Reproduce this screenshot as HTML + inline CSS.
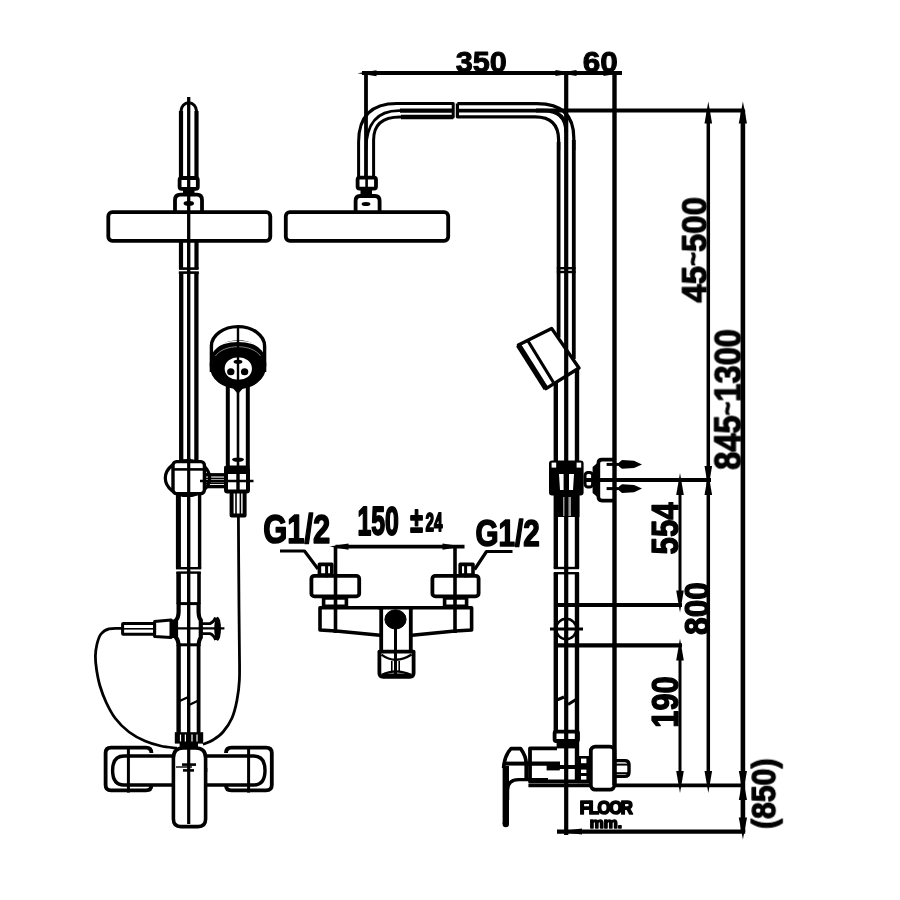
<!DOCTYPE html>
<html lang="en"><head><meta charset="utf-8"><title>Shower column dimensions</title>
<style>
html,body{margin:0;padding:0;background:#fff;}
body{width:900px;height:900px;overflow:hidden;}
svg{display:block;filter:blur(0.55px);}
svg text{font-family:"Liberation Sans",sans-serif;font-weight:bold;fill:#000;stroke:#000;stroke-linejoin:round;}
</style></head><body>
<svg width="900" height="900" viewBox="0 0 900 900" stroke="#000" fill="none" stroke-linejoin="round">
<rect x="0" y="0" width="900" height="900" fill="#fff" stroke="none"/>
<g id="front-view">
<line x1="181" y1="111" x2="181" y2="177" stroke-width="4.2" stroke-linecap="butt"/>
<line x1="196.5" y1="111" x2="196.5" y2="177" stroke-width="4.2" stroke-linecap="butt"/>
<path d="M181,112 V111 A7.75,8.2 0 0 1 196.5,111 V112" stroke-width="3" fill="none" />
<rect x="179.6" y="178" width="18.2" height="10.8" rx="2" stroke-width="3.8" fill="none"/>
<rect x="183" y="190" width="11.5" height="4" rx="0" stroke-width="0" fill="#000"/>
<path d="M175,212 V200 Q175,194.6 180.5,194.6 H197 Q202,194.6 202,200 V212" stroke-width="3.8" fill="none" />
<ellipse cx="188.8" cy="203.4" rx="5.2" ry="2.4" stroke-width="0" fill="#000"/>
<rect x="108.3" y="212.2" width="162" height="28.6" rx="4" stroke-width="3.8" fill="none"/>
<line x1="188.7" y1="97" x2="188.7" y2="243" stroke-width="3.3" stroke-linecap="butt"/>
<line x1="181" y1="242" x2="181" y2="269" stroke-width="4.2" stroke-linecap="butt"/>
<line x1="196.5" y1="242" x2="196.5" y2="269" stroke-width="4.2" stroke-linecap="butt"/>
<line x1="179" y1="268.6" x2="198.6" y2="268.6" stroke-width="2.6" stroke-linecap="butt"/>
<line x1="181.2" y1="272" x2="181.2" y2="460" stroke-width="4.3" stroke-linecap="butt"/>
<line x1="196.4" y1="272" x2="196.4" y2="460" stroke-width="4.3" stroke-linecap="butt"/>
<line x1="178.8" y1="272.6" x2="198.8" y2="272.6" stroke-width="2.6" stroke-linecap="butt"/>
<line x1="188.7" y1="243" x2="188.7" y2="460" stroke-width="3.4" stroke-linecap="butt"/>
<ellipse cx="187.5" cy="478" rx="22.2" ry="17.5" stroke-width="3.2" fill="#fff"/>
<rect x="173" y="461.6" width="31.4" height="32" rx="3.5" stroke-width="3.4" fill="#fff"/>
<line x1="173" y1="469.4" x2="204.4" y2="469.4" stroke-width="2.6" stroke-linecap="butt"/>
<line x1="188.7" y1="458" x2="188.7" y2="497" stroke-width="3.2" stroke-linecap="butt"/>
<line x1="206" y1="474.8" x2="225" y2="474.8" stroke-width="3.4" stroke-linecap="butt"/>
<line x1="206" y1="486.6" x2="225" y2="486.6" stroke-width="3.4" stroke-linecap="butt"/>
<line x1="206" y1="478.4" x2="225" y2="478.4" stroke-width="1.6" stroke-linecap="butt"/>
<line x1="206" y1="483.2" x2="225" y2="483.2" stroke-width="1.6" stroke-linecap="butt"/>
<line x1="200" y1="481" x2="253.5" y2="481" stroke-width="2.4" stroke-linecap="butt"/>
<line x1="227.8" y1="385" x2="227.8" y2="467" stroke-width="4" stroke-linecap="butt"/>
<line x1="247.8" y1="385" x2="247.8" y2="467" stroke-width="4" stroke-linecap="butt"/>
<line x1="238" y1="388" x2="238" y2="466" stroke-width="2.6" stroke-linecap="butt"/>
<rect x="226" y="467.6" width="22" height="23.8" rx="1.5" stroke-width="4" fill="none"/>
<rect x="224.4" y="466" width="25" height="8" rx="0" stroke-width="0" fill="#000"/>
<line x1="238" y1="472" x2="238" y2="491" stroke-width="3.4" stroke-linecap="butt"/>
<ellipse cx="238" cy="459.6" rx="6" ry="2.2" stroke-width="0" fill="#000"/>
<path d="M231.6,492 V515.4 H244.6 V492" stroke-width="4" fill="none" />
<line x1="236" y1="493" x2="236" y2="515" stroke-width="1.6" stroke-linecap="butt"/>
<line x1="240.4" y1="493" x2="240.4" y2="515" stroke-width="1.6" stroke-linecap="butt"/>
<path d="M238.4,516 C238.5,531.7 238.8,587.7 239,610 C239.2,632.3 239.3,638.3 239.4,650 C239.5,661.7 239.8,671.7 239.4,680 C239.0,688.3 238.2,693.7 237,700 C235.8,706.3 234.3,712.7 232,718 C229.7,723.3 226.2,728.3 223,732 C219.8,735.7 216.3,737.9 213,740 C209.7,742.1 204.7,743.7 203,744.4" stroke-width="2.8" fill="none" />
<path d="M211.4,372 V346 A26.6,19.4 0 0 1 264.6,346 V372" stroke-width="3.4" fill="none" />
<path d="M210.4,364.6 C210.4,333 265.6,333 265.6,364.6 C265.6,396 210.4,396 210.4,364.6 Z M223.9,368.6 C223.9,352.6 252.7,352.6 252.7,368.6 C252.7,384.6 223.9,384.6 223.9,368.6 Z" fill="#000" fill-rule="evenodd" stroke-width="1.5"/>
<path d="M214,350 C222,338.4 254,338.4 262,350" stroke-width="1.3" fill="none" stroke="#fff"/>
<path d="M215.4,356 C224,343.6 252,343.6 260.6,356" stroke-width="0.8" fill="none" stroke="#999"/>
<ellipse cx="238" cy="361.8" rx="4.4" ry="2.0" stroke-width="0" fill="#000"/>
<ellipse cx="230.8" cy="371.8" rx="3.7" ry="3.5" stroke-width="0" fill="#000"/>
<ellipse cx="244.6" cy="371.8" rx="3.7" ry="3.5" stroke-width="0" fill="#000"/>
<line x1="238" y1="326" x2="238" y2="392" stroke-width="2.4" stroke-linecap="butt"/>
<polygon points="231,386 245,386 238,394" fill="#000" stroke-width="0"/>
<line x1="178.4" y1="495" x2="178.4" y2="568.6" stroke-width="5.0" stroke-linecap="butt"/>
<line x1="199.6" y1="495" x2="199.6" y2="568.6" stroke-width="3.4" stroke-linecap="butt"/>
<line x1="176" y1="568.2" x2="201.2" y2="568.2" stroke-width="2.4" stroke-linecap="butt"/>
<line x1="188.7" y1="495" x2="188.7" y2="733" stroke-width="3.4" stroke-linecap="butt"/>
<line x1="178.6" y1="572" x2="178.6" y2="604" stroke-width="4.6" stroke-linecap="butt"/>
<line x1="199" y1="572" x2="199" y2="604" stroke-width="3.6" stroke-linecap="butt"/>
<line x1="176.4" y1="572.6" x2="200.8" y2="572.6" stroke-width="2.4" stroke-linecap="butt"/>
<line x1="178.6" y1="603.6" x2="198.6" y2="603.6" stroke-width="3" stroke-linecap="butt"/>
<path d="M178.6,603 V612 Q178.4,618 176,620 V637.5 Q178.4,640 178.6,646" stroke-width="4.2" fill="none" />
<path d="M198.6,603 V612 Q198.8,618 200.8,620 V637.5 Q198.8,640 198.6,646" stroke-width="4.2" fill="none" />
<rect x="171" y="619.5" width="6" height="18.5" rx="0" stroke-width="0" fill="#000"/>
<line x1="178.6" y1="644.8" x2="198.6" y2="644.8" stroke-width="3" stroke-linecap="butt"/>
<line x1="171" y1="628.4" x2="224.4" y2="628.4" stroke-width="2.2" stroke-linecap="butt"/>
<rect x="122.6" y="623.6" width="32" height="10.6" rx="0.5" stroke-width="3" fill="none"/>
<line x1="123" y1="628.8" x2="155" y2="628.8" stroke-width="1.6" stroke-linecap="butt"/>
<path d="M154.6,621.4 L171,620 V637.4 L154.6,636.4 Z" stroke-width="3" fill="none" />
<path d="M201.6,623.6 H210 Q214,622 215.6,617.6 M201.6,633.6 H210 Q214,635 215.6,640" stroke-width="2.8" fill="none" />
<ellipse cx="217.6" cy="628.8" rx="3.4" ry="12" stroke-width="0" fill="#000"/>
<path d="M122,628.4 C119.8,628.5 112.5,627.9 109,628.8 C105.5,629.7 103.0,631.5 101,634 C99.0,636.5 97.9,640.3 97,644 C96.1,647.7 95.5,651.7 95.4,656 C95.3,660.3 95.8,665.0 96.6,670 C97.4,675.0 98.4,680.7 100,686 C101.6,691.3 103.5,696.7 106,702 C108.5,707.3 111.2,713.0 115,718 C118.8,723.0 124.0,728.2 129,732 C134.0,735.8 139.7,738.7 145,741 C150.3,743.3 155.7,744.8 161,746 C166.3,747.2 174.3,747.8 177,748.2" stroke-width="2.8" fill="none" />
<line x1="178.6" y1="645" x2="178.6" y2="734" stroke-width="4.4" stroke-linecap="butt"/>
<line x1="198.6" y1="645" x2="198.6" y2="734" stroke-width="3.8" stroke-linecap="butt"/>
<path d="M177.4,702 L188.4,697 M189,705 L199.6,700" stroke-width="2.4" fill="none" />
<rect x="174.8" y="732.2" width="28.4" height="11.4" rx="0" stroke-width="0" fill="#000"/>
<rect x="179.6" y="743" width="18.4" height="6" rx="0" stroke-width="0" fill="#000"/>
<line x1="180.5" y1="734.6" x2="180.5" y2="741.4" stroke-width="1.2" stroke="#fff" stroke-linecap="butt"/>
<line x1="185.4" y1="734.6" x2="185.4" y2="741.4" stroke-width="1.2" stroke="#fff" stroke-linecap="butt"/>
<line x1="192" y1="734.6" x2="192" y2="741.4" stroke-width="1.2" stroke="#fff" stroke-linecap="butt"/>
<line x1="197" y1="734.6" x2="197" y2="741.4" stroke-width="1.2" stroke="#fff" stroke-linecap="butt"/>
<path d="M151.4,753 Q151.4,747.6 146,747.6 H111 Q105.6,747.6 105.6,753 V785 Q105.6,790.4 111,790.4 H146 Q151.4,790.4 151.4,785.6" stroke-width="3.8" fill="none" />
<path d="M173,756 H124 Q112.6,756 112.6,770.5 Q112.6,785 124,785 H173" stroke-width="3.4" fill="none" />
<line x1="128.4" y1="746" x2="128.4" y2="792.6" stroke-width="3" stroke-linecap="butt"/>
<path d="M226,753 Q226,747.6 231.4,747.6 H266 Q271.8,747.6 271.8,753 V785 Q271.8,790.4 266,790.4 H231.4 Q226,790.4 226,785.6" stroke-width="3.8" fill="none" />
<path d="M205,756 H253.6 Q265,756 265,770.5 Q265,785 253.6,785 H205" stroke-width="3.4" fill="none" />
<line x1="248.6" y1="746" x2="248.6" y2="792.6" stroke-width="3" stroke-linecap="butt"/>
<path d="M173.4,819 V758 Q173.4,748 183.4,748 H195.6 Q205.6,748 205.6,758 V819 Q205.6,826.6 198,826.6 H181 Q173.4,826.6 173.4,819 Z" stroke-width="3.6" fill="#fff" />
<line x1="188.7" y1="743" x2="188.7" y2="824" stroke-width="3.2" stroke-linecap="butt"/>
<line x1="176" y1="767" x2="192" y2="767" stroke-width="1.4" stroke-linecap="butt"/>
<line x1="182" y1="764.6" x2="196" y2="764.6" stroke-width="2.6" stroke-linecap="butt"/>
<line x1="183" y1="770.4" x2="194" y2="770.4" stroke-width="2.6" stroke-linecap="butt"/>
<line x1="206.6" y1="768" x2="206.6" y2="772" stroke-width="1.4" stroke-linecap="butt"/>
</g>
<g id="top-view">
<line x1="335.5" y1="546.6" x2="464.5" y2="546.6" stroke-width="3.6" stroke-linecap="butt"/>
<polygon points="329.5,546.6 348.5,543.4 348.5,549.8000000000001" fill="#000" stroke-width="0"/>
<polygon points="462.5,546.6 442.5,543.4 442.5,549.8000000000001" fill="#000" stroke-width="0"/>
<line x1="335.5" y1="546" x2="335.5" y2="633" stroke-width="3.6" stroke-linecap="butt"/>
<line x1="455" y1="546" x2="455" y2="633" stroke-width="3.6" stroke-linecap="butt"/>
<path d="M280,551 H304.5 L318,569" stroke-width="3.2" fill="none" />
<path d="M512.5,551.5 H486.5 L474.6,569.5" stroke-width="3.2" fill="none" />
<rect x="319.4" y="564.4" width="12.4" height="10.6" rx="0" stroke-width="3.6" fill="none"/>
<line x1="326.6" y1="565" x2="326.6" y2="577.4" stroke-width="3" stroke-linecap="butt"/>
<rect x="460.2" y="564.4" width="12.8" height="10.6" rx="0" stroke-width="3.6" fill="none"/>
<line x1="465.6" y1="565" x2="465.6" y2="577.4" stroke-width="3" stroke-linecap="butt"/>
<rect x="311.4" y="575.8" width="47.8" height="20.6" rx="3" stroke-width="3.8" fill="none"/>
<rect x="432.4" y="575.8" width="46.2" height="20.6" rx="3" stroke-width="3.8" fill="none"/>
<rect x="323.6" y="598" width="22.8" height="8.4" rx="0" stroke-width="3.6" fill="none"/>
<rect x="444.6" y="598" width="22" height="8.4" rx="0" stroke-width="3.6" fill="none"/>
<path d="M379.6,607.8 H320 V630 L336,631 L380,635.2" stroke-width="3.6" fill="none" />
<path d="M411.4,607.8 H471.6 V630 L455,631 L412,635.2" stroke-width="3.6" fill="none" />
<line x1="378" y1="607.8" x2="413" y2="607.8" stroke-width="3.6" stroke-linecap="butt"/>
<path d="M381.2,607 V652 M410.8,607 V652" stroke-width="3.8" fill="none" />
<path d="M379.4,651.6 V673 Q379.4,676.8 383.2,676.8 H409.8 Q413.6,676.8 413.6,673 V651.6 Z" stroke-width="3.8" fill="none" />
<ellipse cx="395.5" cy="619.4" rx="10.6" ry="9.6" stroke-width="1" fill="#000"/>
<line x1="395.5" y1="628" x2="395.5" y2="676" stroke-width="3" stroke-linecap="butt"/>
<path d="M381.4,654.6 Q395.5,665 411.6,654.6" stroke-width="2.4" fill="none" />
<path d="M382,674.8 Q395.5,668 411,674.8" stroke-width="2.4" fill="none" />
<line x1="391.8" y1="661" x2="391.8" y2="671" stroke-width="1.6" stroke-linecap="butt"/>
<line x1="399.2" y1="661" x2="399.2" y2="671" stroke-width="1.6" stroke-linecap="butt"/>
<line x1="384" y1="674.2" x2="408" y2="674.2" stroke-width="1.6" stroke-linecap="butt"/>
</g>
<g id="side-view">
<rect x="285.8" y="212.2" width="162.4" height="28.6" rx="4" stroke-width="3.8" fill="none"/>
<path d="M355.6,212 V201 Q355.6,196 360,196 H375 Q379.6,196 379.6,201 V212" stroke-width="3.8" fill="none" />
<ellipse cx="366" cy="204" rx="4.4" ry="2.0" stroke-width="0" fill="#000"/>
<rect x="360.5" y="190" width="11.5" height="5" rx="0" stroke-width="0" fill="#000"/>
<rect x="357.6" y="177.6" width="18.4" height="11" rx="2" stroke-width="3.8" fill="none"/>
<line x1="366.6" y1="178" x2="366.6" y2="189" stroke-width="2.6" stroke-linecap="butt"/>
<path d="M358.6,177 V142 Q358.6,103.6 397,103.6 H453.2 V117 H400 Q373.6,117 373.6,140 V177" stroke-width="3" fill="none" />
<line x1="401" y1="117" x2="453.2" y2="117" stroke-width="4.4" stroke-linecap="butt"/>
<path d="M366,150 Q366,110.6 399,110.6 H402" stroke-width="2.6" fill="none" />
<line x1="400" y1="110.6" x2="453" y2="110.6" stroke-width="4.2" stroke-linecap="butt"/>
<path d="M457.4,103.6 H537 Q573.8,103.6 573.8,138 V150" stroke-width="3.2" fill="none" />
<line x1="573.8" y1="140" x2="573.8" y2="359" stroke-width="3.8" stroke-linecap="butt"/>
<path d="M457.4,103.6 V116.8 H535 Q558.6,116.8 558.6,140 V150" stroke-width="3.2" fill="none" />
<line x1="558.6" y1="142" x2="558.6" y2="337.4" stroke-width="3.8" stroke-linecap="butt"/>
<path d="M457,110.6 H544 Q566.2,110.6 566.2,132" stroke-width="3.8" fill="none" />
<line x1="556.8" y1="268.2" x2="575.6" y2="268.2" stroke-width="2.4" stroke-linecap="butt"/>
<line x1="556.8" y1="272" x2="575.6" y2="272" stroke-width="2.4" stroke-linecap="butt"/>
<line x1="555.8" y1="378" x2="555.8" y2="461" stroke-width="4.4" stroke-linecap="butt"/>
<line x1="577" y1="370" x2="577" y2="461" stroke-width="4.4" stroke-linecap="butt"/>
<polygon points="551.6,328.4 579,368 546,388.6 518.4,345" fill="#fff" stroke-width="0"/>
<path d="M551.6,328.4 L579,368 L546,388.6 L518.4,345 Z" stroke-width="3.4" fill="none" />
<path d="M518.4,345 L546,388.6" stroke-width="5.4" fill="none" />
<line x1="527.8" y1="340.6" x2="553.4" y2="382.4" stroke-width="3" stroke-linecap="butt"/>
<line x1="566.2" y1="72" x2="566.2" y2="835" stroke-width="4.2" stroke-linecap="butt"/>
<rect x="549" y="460.6" width="34.6" height="35" rx="3" stroke-width="0" fill="#000"/>
<rect x="551.6" y="462.6" width="4.6" height="5" fill="#fff" stroke="none"/>
<rect x="576.6" y="462.6" width="4.6" height="5" fill="#fff" stroke="none"/>
<path d="M559,474 H563.6 V490 H560 Z M569,474 H574 L573,490 H569 Z" fill="#fff" stroke="none"/>
<rect x="553.6" y="495" width="26" height="22" rx="0" stroke-width="0" fill="#000"/>
<rect x="563.2" y="497" width="1.2" height="19" fill="#bbb" stroke="none"/>
<rect x="568.4" y="497" width="2.6" height="19" fill="#999" stroke="none"/>
<rect x="585" y="472.4" width="7.6" height="14.6" rx="3" stroke-width="3.0" fill="none"/>
<polygon points="592.6,467 599.6,461 599.6,499 592.6,493" fill="#000" stroke-width="0"/>
<path d="M614,459.6 H602 Q598.4,459.6 598.4,463 V497 Q598.4,500.6 602,500.6 H614" stroke-width="3.6" fill="none" />
<line x1="606.6" y1="464.4" x2="622" y2="464.4" stroke-width="3" stroke-linecap="butt"/>
<polygon points="619,462.4 622,460.0 634,460.79999999999995 642,464.4 634,468.0 622,468.79999999999995 619,466.4" fill="#000" stroke-width="0"/>
<line x1="606.6" y1="488.6" x2="622" y2="488.6" stroke-width="3" stroke-linecap="butt"/>
<polygon points="619,486.6 622,484.20000000000005 634,485.0 642,488.6 634,492.20000000000005 622,493.0 619,490.6" fill="#000" stroke-width="0"/>
<line x1="555.8" y1="517" x2="555.8" y2="568.4" stroke-width="4.4" stroke-linecap="butt"/>
<line x1="577" y1="517" x2="577" y2="568.4" stroke-width="4.4" stroke-linecap="butt"/>
<line x1="553.8" y1="568" x2="579" y2="568" stroke-width="2.4" stroke-linecap="butt"/>
<line x1="553.8" y1="573.2" x2="579" y2="573.2" stroke-width="2.4" stroke-linecap="butt"/>
<line x1="555.8" y1="573" x2="555.8" y2="733" stroke-width="4.4" stroke-linecap="butt"/>
<line x1="577" y1="573" x2="577" y2="783" stroke-width="4.4" stroke-linecap="butt"/>
<ellipse cx="566.2" cy="629" rx="10.2" ry="10.2" stroke-width="2.4" fill="none"/>
<line x1="550" y1="629" x2="583" y2="629" stroke-width="3" stroke-linecap="butt"/>
<path d="M554.6,701 L564,697 M568,704.6 L576,699.4" stroke-width="3" fill="none" />
<rect x="554.6" y="731.6" width="23.4" height="9.4" rx="1.5" stroke-width="3.8" fill="none"/>
<rect x="556.6" y="741" width="20.6" height="7.4" rx="0" stroke-width="0" fill="#000"/>
<path d="M557,748.4 H530 V781.4 H577" stroke-width="3.8" fill="none" />
<line x1="526" y1="763.6" x2="560" y2="763.6" stroke-width="4.2" stroke-linecap="butt"/>
<line x1="559" y1="767" x2="577" y2="767" stroke-width="4" stroke-linecap="butt"/>
<rect x="546.6" y="763" width="13.2" height="7.4" rx="0" stroke-width="0" fill="#000"/>
<line x1="528.4" y1="785.4" x2="745" y2="785.4" stroke-width="3.8" stroke-linecap="butt"/>
<path d="M503.6,768 Q504.2,756 511,748.6 H520.6 Q526.2,756 526.2,764 V779" stroke-width="3.6" fill="none" />
<line x1="505.8" y1="766" x2="505.8" y2="824" stroke-width="6.4" stroke-linecap="butt"/>
<line x1="503" y1="763.6" x2="527" y2="763.6" stroke-width="4" stroke-linecap="butt"/>
<path d="M507.6,800 V790 Q507.6,779.6 519,779.6 H548" stroke-width="3.2" fill="none" />
<circle cx="505.8" cy="824" r="3.2" fill="#000" stroke="none"/>
<rect x="577" y="756" width="13" height="27.4" rx="0" stroke-width="0" fill="#000"/>
<rect x="581" y="758.6" width="5.4" height="4.6" fill="#fff" stroke="none"/>
<rect x="581" y="769.6" width="5.4" height="3.4" fill="#fff" stroke="none"/>
<rect x="581" y="776" width="5.4" height="3.6" fill="#fff" stroke="none"/>
<rect x="590.8" y="746.6" width="23.6" height="43" rx="4.5" stroke-width="3.8" fill="#fff"/>
<line x1="614.5" y1="72" x2="614.5" y2="785" stroke-width="4.4" stroke-linecap="butt"/>
<path d="M616,760.6 H625 Q629,760.6 629,765 V772 Q629,776.4 625,776.4 H616" stroke-width="3.4" fill="none" />
<line x1="616" y1="764.6" x2="628" y2="764.6" stroke-width="2" stroke-linecap="butt"/>
<line x1="616" y1="773.2" x2="628" y2="773.2" stroke-width="2" stroke-linecap="butt"/>
</g>
<g id="dimensions">
<line x1="362" y1="73" x2="622" y2="73" stroke-width="3.8" stroke-linecap="butt"/>
<line x1="366" y1="72" x2="366" y2="177" stroke-width="3.8" stroke-linecap="butt"/>
<polygon points="357.5,73.2 376.5,70.2 376.5,76.2" fill="#000" stroke-width="0"/>
<polygon points="573.5,73 555.5,70.0 555.5,76.0" fill="#000" stroke-width="0"/>
<polygon points="558.5,73 576.5,70.0 576.5,76.0" fill="#000" stroke-width="0"/>
<polygon points="621.5,73 603.5,70.0 603.5,76.0" fill="#000" stroke-width="0"/>
<line x1="536" y1="110.6" x2="744.6" y2="110.6" stroke-width="4" stroke-linecap="butt"/>
<line x1="680" y1="485" x2="680" y2="600" stroke-width="3.0" stroke-linecap="butt"/>
<line x1="680" y1="650" x2="680" y2="780" stroke-width="3.0" stroke-linecap="butt"/>
<line x1="708.3" y1="110" x2="708.3" y2="780" stroke-width="3.5" stroke-linecap="butt"/>
<line x1="742.9" y1="110" x2="742.9" y2="832" stroke-width="4.6" stroke-linecap="butt"/>
<line x1="586" y1="480" x2="711" y2="480" stroke-width="3.8" stroke-linecap="butt"/>
<line x1="554" y1="605" x2="682" y2="605" stroke-width="4.2" stroke-linecap="butt"/>
<line x1="554" y1="645.4" x2="682" y2="645.4" stroke-width="4.2" stroke-linecap="butt"/>
<line x1="557" y1="831.6" x2="745.2" y2="831.6" stroke-width="4.2" stroke-linecap="butt"/>
<polygon points="708.3,101.6 704.5,123.6 712.0999999999999,123.6" fill="#000" stroke-width="0"/>
<polygon points="742.9,101.6 738.8,123.6 747.0,123.6" fill="#000" stroke-width="0"/>
<polygon points="680,473 676.2,495 683.8,495" fill="#000" stroke-width="0"/>
<polygon points="708.3,473 704.5,495 712.0999999999999,495" fill="#000" stroke-width="0"/>
<polygon points="708.3,488 704.5,466 712.0999999999999,466" fill="#000" stroke-width="0"/>
<polygon points="680,612.4 676.2,590.4 683.8,590.4" fill="#000" stroke-width="0"/>
<polygon points="680,638.6 676.2,660.6 683.8,660.6" fill="#000" stroke-width="0"/>
<polygon points="680,793 676.2,771 683.8,771" fill="#000" stroke-width="0"/>
<polygon points="708.3,793 704.5,771 712.0999999999999,771" fill="#000" stroke-width="0"/>
<polygon points="742.9,793 738.8,771 747.0,771" fill="#000" stroke-width="0"/>
<polygon points="742.9,778 738.8,800 747.0,800" fill="#000" stroke-width="0"/>
<polygon points="742.9,839.4 738.8,817.4 747.0,817.4" fill="#000" stroke-width="0"/>
<polygon points="558,831.6 582,828.6 582,834.6" fill="#000" stroke-width="0"/>
<g id="labels" opacity="0.999">
<text transform="translate(455.68 72.17) scale(0.96 0.9221)" font-size="32" stroke-width="1.0" vector-effect="non-scaling-stroke">350</text>
<text transform="translate(582.8 72.3) scale(0.9879 0.9213)" font-size="32" stroke-width="1.0" vector-effect="non-scaling-stroke">60</text>
<text transform="translate(263.15 543.48) scale(0.7741 1.0096)" font-size="40" stroke-width="1.4" vector-effect="non-scaling-stroke">G1/2</text>
<text transform="translate(475.38 545.65) scale(0.7412 0.9024)" font-size="40" stroke-width="1.4" vector-effect="non-scaling-stroke">G1/2</text>
<text transform="translate(357.45 535.0) scale(0.6531 1.0557)" font-size="38" stroke-width="1.6" vector-effect="non-scaling-stroke">150</text>
<text transform="translate(410.2 532.38) scale(0.7645 1.1581)" font-size="30" stroke-width="1.6" vector-effect="non-scaling-stroke">±</text>
<text transform="translate(425.45 530.9) scale(0.7628 1.313)" font-size="20" stroke-width="1.5" vector-effect="non-scaling-stroke">24</text>
<text transform="translate(678.0 554.5) rotate(-90) scale(0.8238 0.973)" font-size="38" stroke-width="1.2" vector-effect="non-scaling-stroke">554</text>
<text transform="translate(709.35 634.88) rotate(-90) scale(0.8315 0.9204)" font-size="38" stroke-width="1.2" vector-effect="non-scaling-stroke">800</text>
<text transform="translate(678.0 727.75) rotate(-90) scale(0.8116 0.9558)" font-size="38" stroke-width="1.2" vector-effect="non-scaling-stroke">190</text>
<text transform="translate(705.8 302.62) rotate(-90) scale(0.8692 0.9328)" font-size="38" stroke-width="1.2" vector-effect="non-scaling-stroke">45<tspan font-size="27" dy="-4">~</tspan><tspan dy="4">500</tspan></text>
<text transform="translate(740.67 469.83) rotate(-90) scale(0.8602 0.9752)" font-size="38" stroke-width="1.2" vector-effect="non-scaling-stroke">845<tspan font-size="27" dy="-4">~</tspan><tspan dy="4">1300</tspan></text>
<text transform="translate(775.25 829.0) rotate(-90) scale(0.8398 0.9429)" font-size="36" stroke-width="1.2" vector-effect="non-scaling-stroke">(850)</text>
<text transform="translate(579.85 813.82) scale(0.8345 0.8798)" font-size="20" stroke-width="1.7" vector-effect="non-scaling-stroke" letter-spacing="-1.6">FLOOR</text>
<text transform="translate(589.82 827.65) scale(0.8731 0.8581)" font-size="18" stroke-width="1.6" vector-effect="non-scaling-stroke">mm.</text>
</g>
</g>
</svg>
</body></html>
